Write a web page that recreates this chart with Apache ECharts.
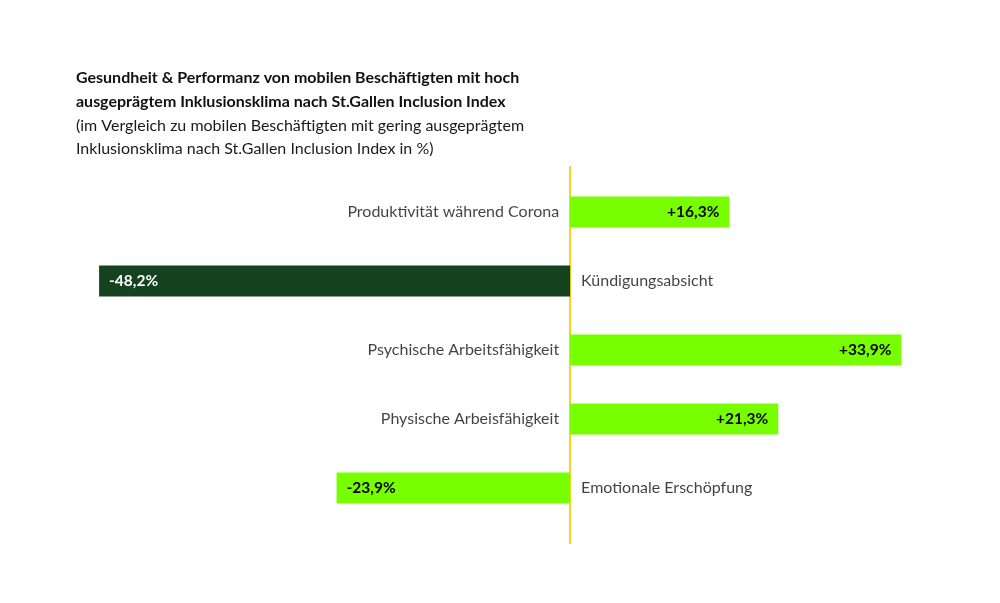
<!DOCTYPE html>
<html><head><meta charset="utf-8">
<script src="https://cdn.jsdelivr.net/npm/echarts@6/dist/echarts.min.js"></script>
<style>html,body{margin:0;padding:0;background:#fff}#c{width:1000px;height:603px}</style>
</head><body><div id="c"></div>
<script>
const categories = ["Produktivität während Corona","Kündigungsabsicht","Psychische Arbeitsfähigkeit","Physische Arbeisfähigkeit","Emotionale Erschöpfung"];
const values = [16.3, -48.2, 33.9, 21.3, -23.9];
const barColors = ["#77ff00","#15421f","#77ff00","#77ff00","#77ff00"];
const labelColors = ["#000","#fff","#000","#000","#000"];

const fmt = v => (v > 0 ? "+" : "") + v.toFixed(1).replace(".", ",") + "%";
const FONT = "Lato";

const chart = echarts.init(document.getElementById('c'));
chart.setOption({
  animation: false,
  textStyle: {fontFamily: FONT},
  title: {
    left: 76, top: 66, padding: 0,
    text: "Gesundheit & Performanz von mobilen Beschäftigten mit hoch\nausgeprägtem Inklusionsklima nach St.Gallen Inclusion Index",
    subtext: "(im Vergleich zu mobilen Beschäftigten mit gering ausgeprägtem\nInklusionsklima nach St.Gallen Inclusion Index in %)",
    itemGap: 0,
    textStyle: {fontFamily: FONT, fontSize: 16, fontWeight: "bold", color: "#111", lineHeight: 24},
    subtextStyle: {fontFamily: FONT, fontSize: 16, color: "#1a1a1a", lineHeight: 23}
  },
  grid: [
    {left: 81.5, right: 39, top: 177.5, bottom: 80.5},
    {left: 81.5, right: 39, top: 167, bottom: 60}
  ],
  xAxis: [
    {type: "value", min: -50, max: 40, show: false, gridIndex: 0},
    {type: "value", min: -50, max: 40, show: false, gridIndex: 1}
  ],
  yAxis: [
    {
      type: "category", inverse: true, data: categories, gridIndex: 0,
      axisLine: {show: false}, axisTick: {show: false}, axisLabel: {show: false}, splitLine: {show: false}
    },
    {
      type: "value", gridIndex: 1, min: 0, max: 1,
      axisLine: {show: true, onZero: true, lineStyle: {color: "#f7d21e", width: 2}},
      axisTick: {show: false}, axisLabel: {show: false}, splitLine: {show: false}
    }
  ],
  series: [
    {
      type: "bar", barWidth: 31, z: 1, xAxisIndex: 0, yAxisIndex: 0,
      data: values.map((v, i) => ({
        value: v,
        itemStyle: {color: barColors[i]},
        label: {
          show: true, position: v > 0 ? "insideRight" : "insideLeft", distance: 10,
          formatter: fmt(v), color: labelColors[i], fontWeight: "bold", fontSize: 15.5, fontFamily: FONT
        }
      }))
    },
    {
      type: "scatter", symbolSize: 0, z: 3, xAxisIndex: 0, yAxisIndex: 0,
      data: values.map((v, i) => ({
        value: [0, i],
        label: {
          show: true, position: v > 0 ? "left" : "right", distance: 11,
          formatter: categories[i], color: "#111", fontSize: 16, fontFamily: FONT
        }
      }))
    },
    {type: "line", data: [], xAxisIndex: 1, yAxisIndex: 1}
  ]
});
</script></body></html>
